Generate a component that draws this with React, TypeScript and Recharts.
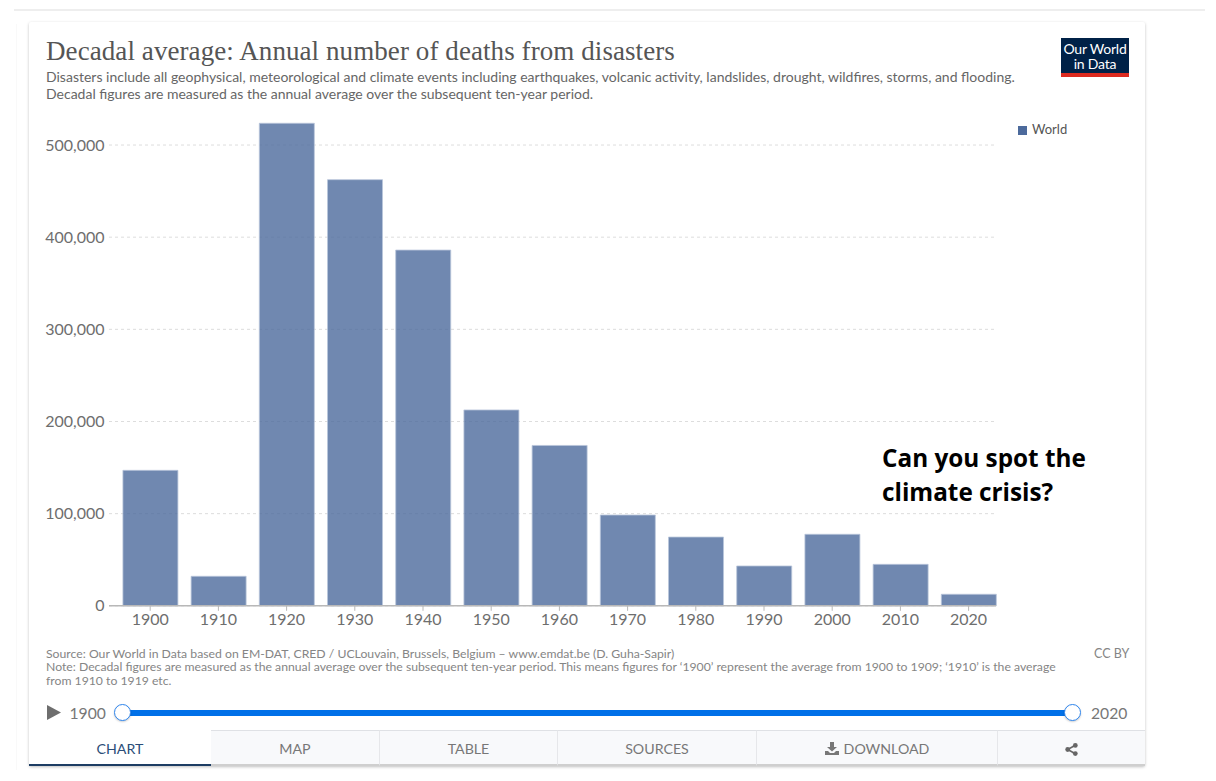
import React from 'react';
import { BarChart, Bar, XAxis, YAxis, CartesianGrid, Legend } from 'recharts';

const decades = ['1900', '1910', '1920', '1930', '1940', '1950', '1960', '1970', '1980', '1990', '2000', '2010', '2020'];
const deaths = [147000, 32000, 523600, 462400, 386000, 212500, 174000, 98500, 74600, 43200, 77600, 45000, 12500];
const yTicks = [0, 100000, 200000, 300000, 400000, 500000];
const tabs = [
  { label: 'CHART', left: 29, width: 182 },
  { label: 'MAP', left: 211, width: 168 },
  { label: 'TABLE', left: 379, width: 178 },
  { label: 'SOURCES', left: 557, width: 199 },
  { label: 'DOWNLOAD', left: 756, width: 241 },
  { label: '', left: 997, width: 148 },
];

const chartData = decades.map((decade, i) => ({ decade, deaths: deaths[i] }));

const LATO = 'Lato, sans-serif';

const abs = (left: number, top: number, style: React.CSSProperties = {}): React.CSSProperties => ({
  position: 'absolute',
  left,
  top,
  whiteSpace: 'nowrap',
  fontFamily: LATO,
  ...style,
});

const Handle = ({ x }: { x: number }) => (
  <div
    style={abs(x - 9, 703.5, {
      width: 15,
      height: 15,
      borderRadius: '50%',
      background: '#fff',
      border: '1.5px solid #2f86ee',
      boxShadow: '0 1px 2px rgba(0,0,0,0.2)',
    })}
  />
);

const Tab = ({ label, left, width }: { label: string; left: number; width: number }) => {
  const active = label === 'CHART';
  return (
    <div
      style={abs(left, 730, {
        width,
        height: 36,
        boxSizing: 'border-box',
        background: active ? '#fff' : '#f8f9fb',
        borderTop: active ? '1px solid #fff' : '1px solid #dfe1e5',
        borderLeft: active || left === 211 ? 'none' : '1px solid #e6e7ea',
        borderBottom: active ? '2px solid #1d3d63' : '2px solid #cfcfcf',
        color: active ? '#2b4d78' : '#777',
        fontSize: 14.2,
        lineHeight: '36px',
        textAlign: 'center',
      })}
    >
      {label === 'DOWNLOAD' && (
        <svg width="14" height="13" viewBox="0 0 14 13" style={{ marginRight: 5, verticalAlign: -1 }}>
          <path d="M5 0h4v5h3L7 9.5 2 5h3z M0 9h3l2 2h4l2-2h3v4H0z" fill="#777" />
        </svg>
      )}
      {label}
      {left === 997 && (
        <svg width="13" height="13" viewBox="0 0 13 13" style={{ verticalAlign: -2 }}>
          <path d="M10.3 2.3 2.7 6.5l7.6 4.2" stroke="#666" strokeWidth="1.6" fill="none" />
          <circle cx="10.3" cy="2.4" r="2.4" fill="#666" />
          <circle cx="2.7" cy="6.5" r="2.4" fill="#666" />
          <circle cx="10.3" cy="10.6" r="2.4" fill="#666" />
        </svg>
      )}
    </div>
  );
};

const App: React.FC = () => {
  return (
    <div style={{ position: 'absolute', left: 0, top: 0, width: 1216, height: 781, background: '#fff', overflow: 'hidden' }}>
      {/* page furniture behind the card */}
      <div style={abs(14, 9, { width: 1191, height: 2, background: '#eeeeee' })} />
      <div style={abs(16, 24, { width: 1, height: 746, background: '#f9f9f9' })} />
      <div
        style={abs(29, 22, {
          width: 1116,
          height: 744,
          background: '#fff',
          borderRadius: 2,
          boxShadow: '0 1px 3px rgba(0,0,0,0.25)',
        })}
      />

      {/* header */}
      <div style={abs(46, 35, { fontFamily: '"Liberation Serif", serif', fontSize: 27, lineHeight: '32px', color: '#555', letterSpacing: 0.08 })}>
        Decadal average: Annual number of deaths from disasters
      </div>
      <div style={abs(46, 67.5, { fontSize: 14, lineHeight: '17px', color: '#666' })}>
        Disasters include all geophysical, meteorological and climate events including earthquakes, volcanic activity, landslides, drought, wildfires, storms, and flooding.
        <br />
        Decadal figures are measured as the annual average over the subsequent ten-year period.
      </div>
      <div style={abs(1061, 38, { width: 68, height: 39, background: '#002147', borderBottom: '4px solid #dc2a1f', boxSizing: 'border-box', color: '#fff', fontSize: 14, lineHeight: '15px', textAlign: 'center', paddingTop: 3, letterSpacing: -0.2 })}>
        Our World
        <br />
        in Data
      </div>

      <BarChart
        width={1216}
        height={781}
        data={chartData}
        margin={{ top: 122.9, right: 220, bottom: 135.2, left: 39 }}
        style={{ position: 'absolute', left: 0, top: 0 }}
      >
        <CartesianGrid vertical={false} stroke="#dddddd" strokeDasharray="3 3" syncWithTicks />
        <XAxis
          dataKey="decade"
          interval={0}
          height={40}
          padding={{ left: 7.1, right: -6.7 }}
          axisLine={{ stroke: '#b8b8b8', strokeWidth: 1.5 }}
          tickLine={{ stroke: '#b8b8b8' }}
          tickSize={5}
          tickMargin={3}
          tick={{ fill: '#6e6e6e', fontSize: 16, fontFamily: LATO }}
        />
        <YAxis
          width={70}
          domain={[0, 524000]}
          ticks={yTicks}
          axisLine={false}
          tickLine={false}
          tickSize={0}
          tickMargin={4.5}
          tickFormatter={(v: number) => v.toLocaleString('en-US')}
          tick={{ fill: '#6e6e6e', fontSize: 16, fontFamily: LATO }}
        />
        <Legend
          layout="horizontal"
          verticalAlign="middle"
          align="center"
          iconType="square"
          iconSize={9}
          formatter={(value: string) => <span style={{ color: '#555', fontSize: 13, fontFamily: LATO, marginLeft: 1 }}>{value}</span>}
          wrapperStyle={{ left: 1018, top: 120, width: 52, height: 20, margin: 0, padding: 0 }}
        />
        <Bar
          dataKey="deaths"
          name="World"
          fill="#4c6a9c"
          fillOpacity={0.8}
          stroke="#b9c5da"
          strokeWidth={0.8}
          barCategoryGap="20%"
          isAnimationActive={false}
        />
      </BarChart>

      {/* overlaid annotation */}
      <div style={abs(882, 441, { fontFamily: '"Open Sans", sans-serif', fontWeight: 700, fontSize: 24.3, lineHeight: '34px', color: '#000' })}>
        Can you spot the
        <br />
        climate crisis?
      </div>

      {/* footer */}
      <div style={abs(46, 646.5, { fontSize: 12.22, lineHeight: '13.6px', color: '#858585' })}>
        Source: Our World in Data based on EM-DAT, CRED / UCLouvain, Brussels, Belgium – www.emdat.be (D. Guha-Sapir)
        <br />
        Note: Decadal figures are measured as the annual average over the subsequent ten-year period. This means figures for ‘1900’ represent the average from 1900 to 1909; ‘1910’ is the average
        <br />
        from 1910 to 1919 etc.
      </div>
      <div style={abs(1094, 646.5, { fontSize: 12.5, lineHeight: '13.6px', color: '#858585' })}>CC BY</div>

      {/* timeline */}
      <svg width="14" height="16" style={abs(47, 705)}>
        <path d="M0 0 14 7.5 0 15z" fill="#6e6e6e" />
      </svg>
      <div style={abs(69.5, 703, { fontSize: 15.7, lineHeight: '20px', color: '#777' })}>1900</div>
      <div style={abs(1091, 703, { fontSize: 15.7, lineHeight: '20px', color: '#777' })}>2020</div>
      <div style={abs(123, 710, { width: 950, height: 6, background: '#0070e8' })} />
      <Handle x={123} />
      <Handle x={1073} />

      {/* tabs */}
      {tabs.map((t) => (
        <Tab key={t.left} label={t.label} left={t.left} width={t.width} />
      ))}
    </div>
  );
};

export default App;
